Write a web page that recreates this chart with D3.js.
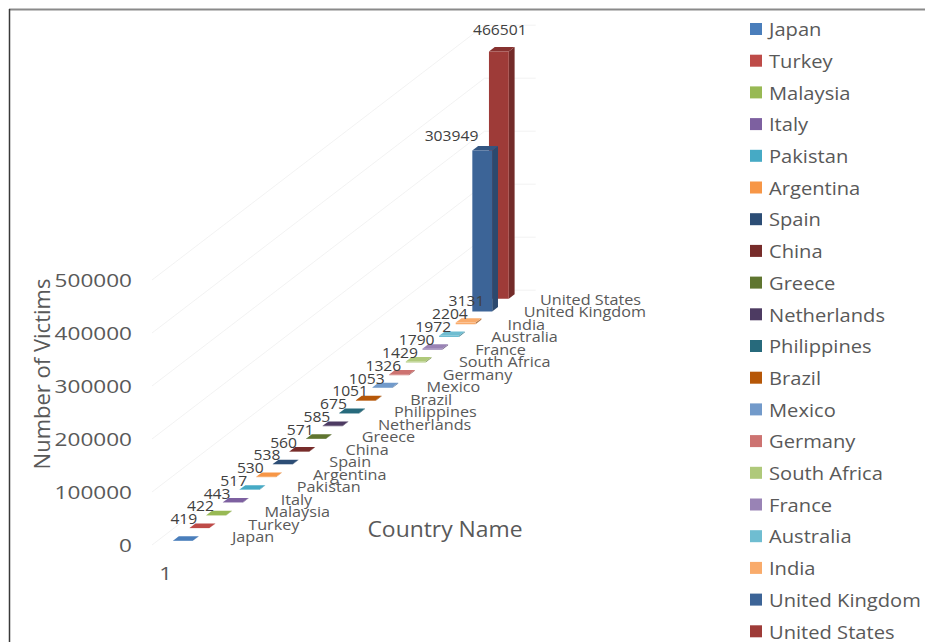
<!DOCTYPE html>
<html><head><meta charset="utf-8">
<script src="https://cdn.jsdelivr.net/npm/d3@7"></script>
<style>
body{margin:0;background:#fff}
text{font-family:"Open Sans",sans-serif}
</style>
</head><body>
<svg id="chart" width="925" height="642"></svg>
<script>
// ---------- data ----------
const countries = ["Japan","Turkey","Malaysia","Italy","Pakistan","Argentina","Spain","China","Greece","Netherlands","Philippines","Brazil","Mexico","Germany","South Africa","France","Australia","India","United Kingdom","United States"];
const victims = [419,422,443,517,530,538,560,571,585,675,1051,1053,1326,1429,1790,1972,2204,3131,303949,466501];
const seriesColors = ["#4A7EBB","#BE4B48","#98B954","#7D60A0","#46AAC5","#F79646","#2C4D75","#772C2A","#5F7530","#4D3B62","#276A7C","#B65708","#729ACA","#CD7371","#AFC97A","#9983B5","#6FBDD1","#F9AB6B","#3C6497","#9E3B38"];
const yTicks = [0,100000,200000,300000,400000,500000];
const categoryLabels = ["1"];
const yTitle = "Number of Victims";
const xTitle = "Country Name";

// ---------- geometry ----------
const svg = d3.select("#chart");
const O = {x:152, y:545};          // front-left floor corner
const DX = 16.63, DY = 12.74;      // oblique projection of one depth unit
const P = (x,h,z) => [O.x + x + z*DX, O.y - h - z*DY];
const nS = countries.length;

const y = d3.scaleLinear().domain([0,500000]).range([0,265]);
const xBand = d3.scaleBand().domain(categoryLabels).range([0,51]).padding(0.44);
const zBand = d3.scaleBand().domain(countries).range([0,nS]).paddingInner(0.65).paddingOuter(0.325);
const depthLabelX = d3.scaleLinear().domain([0,nS-1]).range([232,540]);
const depthLabelY = d3.scaleLinear().domain([0,nS-1]).range([542,305]);

function place(sel, x, yy, sx){ sel.attr("transform",`translate(${x},${yy}) scale(${sx},1)`); return sel; }

// ---------- border ----------
svg.append("line").attr("x1",9).attr("x2",925).attr("y1",9.5).attr("y2",9.5).attr("stroke","#8a8a8a").attr("stroke-width",2);
svg.append("line").attr("x1",9.5).attr("x2",9.5).attr("y1",9).attr("y2",642).attr("stroke","#3a3a3a").attr("stroke-width",1.5);

// ---------- gridlines (side wall and back wall) ----------
const W = xBand.range()[1];
const grid = svg.append("g").attr("stroke","#efefef").attr("stroke-width",0.8).attr("fill","none");
yTicks.forEach(t=>{
  const h = y(t);
  const a = P(0,h,0), b = P(0,h,nS), c = P(W,h,nS);
  grid.append("path").attr("d",`M${a}L${b}L${c}`);
});

// ---------- y tick labels ----------
svg.append("g").selectAll("text").data(yTicks).join("text")
  .each(function(t){ const p = P(0,y(t),0); place(d3.select(this), p[0]-20, p[1], 1.22); })
  .attr("text-anchor","end").attr("dominant-baseline","central")
  .attr("font-size",18.5).attr("fill","#595959").text(d=>d);

// ---------- bars (back to front) ----------
const bars = svg.append("g");
const x0 = xBand(categoryLabels[0]), x1 = x0 + xBand.bandwidth();
d3.range(nS-1,-1,-1).forEach(i=>{
  const name = countries[i], h = y(victims[i]);
  const z0 = zBand(name), z1 = z0 + zBand.bandwidth();
  const col = d3.color(seriesColors[i]);
  const poly = pts => "M"+pts.map(p=>p.join(",")).join("L")+"Z";
  bars.append("path").attr("d",poly([P(x1,0,z0),P(x1,0,z1),P(x1,h,z1),P(x1,h,z0)])).attr("fill",col.darker(0.9));
  bars.append("path").attr("d",poly([P(x0,h,z0),P(x1,h,z0),P(x1,h,z1),P(x0,h,z1)])).attr("fill",h>5?col.darker(0.45):col);
  bars.append("path").attr("d",poly([P(x0,0,z0),P(x1,0,z0),P(x1,h,z0),P(x0,h,z0)])).attr("fill",col);
});

// ---------- data labels ----------
svg.append("g").selectAll("text").data(countries).join("text")
  .each(function(name,i){
    const h = y(victims[i]);
    const z0 = zBand(name), z1 = z0 + zBand.bandwidth();
    const sel = d3.select(this);
    const nextTaller = i < nS-1 && h > 40 && victims[i+1] > victims[i];
    if(nextTaller){
      const p = P(x0,h,z0);
      place(sel, p[0]+6, p[1]-9, 1.08).attr("text-anchor","end");
    } else {
      const pc = P((x0+x1)/2, h, (z0+z1)/2), pb = P(x0,h,z1);
      place(sel, pc[0]-2, pb[1]-12, 1.08).attr("text-anchor","middle");
    }
  })
  .attr("font-size",14.5).attr("fill","#404040").text((d,i)=>victims[i]);

// ---------- depth axis (series names) ----------
svg.append("g").selectAll("text").data(countries).join("text")
  .each(function(name,i){ place(d3.select(this), depthLabelX(i), depthLabelY(i), 1.08); })
  .attr("font-size",15).attr("fill","#595959").text(d=>d);

// ---------- category label ----------
svg.append("g").selectAll("text").data(categoryLabels).join("text")
  .each(function(c){ const p = P(xBand(c)+xBand.bandwidth()/2,0,0); place(d3.select(this), p[0]-12, p[1]+35, 1.2); })
  .attr("text-anchor","middle").attr("font-size",18.5).attr("fill","#595959").text(d=>d);

// ---------- axis titles ----------
place(svg.append("text"),445,537,1.04).attr("text-anchor","middle").attr("font-size",22).attr("fill","#595959").text(xTitle);
svg.append("text").attr("transform","translate(50,374) rotate(-90)").attr("text-anchor","middle")
  .attr("font-size",22).attr("fill","#595959").text(yTitle);

// ---------- legend ----------
const leg = svg.append("g").selectAll("g").data(countries).join("g")
  .attr("transform",(d,i)=>`translate(750,${29 + i*31.7})`);
leg.append("rect").attr("x",0).attr("y",-6).attr("width",12).attr("height",12).attr("fill",(d,i)=>seriesColors[i]);
leg.append("text").attr("transform","translate(19,0) scale(1.06,1)").attr("dominant-baseline","central")
  .attr("font-size",19).attr("fill","#595959").text(d=>d);
</script>
</body></html>
